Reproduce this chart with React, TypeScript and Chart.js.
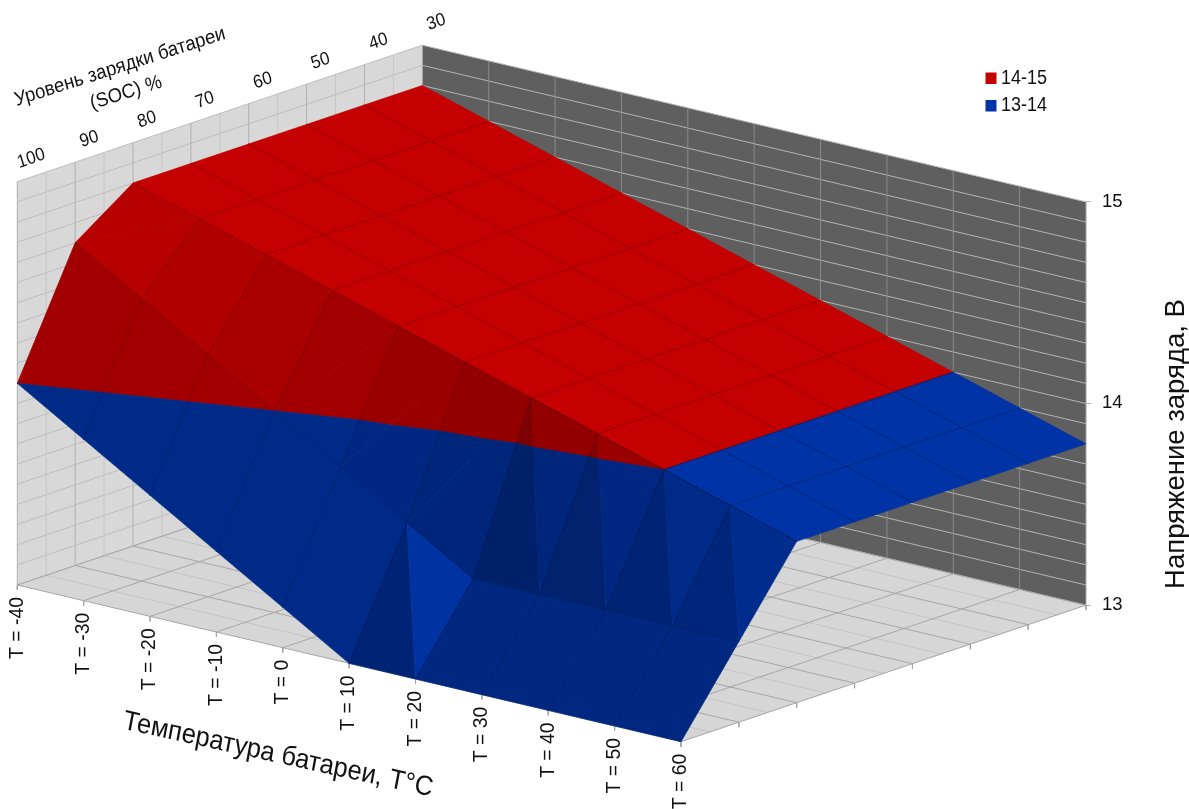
import React, { useEffect, useRef } from "react";
import { Chart, registerables } from "chart.js";

Chart.register(...registerables);

// Charge voltage (V) by battery temperature and state of charge.
const temperatures = [-40, -30, -20, -10, 0, 10, 20, 30, 40, 50, 60];
const socLevels = [100, 90, 80, 70, 60, 50, 40, 30];
const voltsSoc100 = [14.0, 13.8, 13.6, 13.4, 13.2, 13.0, 13.0, 13.0, 13.0, 13.0, 13.0];
const voltsSoc90 = [14.6, 14.4, 14.2, 14.0, 13.8, 13.6, 13.4, 13.4, 13.4, 13.4, 13.4];
const voltsSoc80 = [14.8, 14.7, 14.6, 14.5, 14.4, 14.3, 14.2, 14.1, 14.0, 13.9, 13.8];
const voltsSoc70 = [14.8, 14.7, 14.6, 14.5, 14.4, 14.3, 14.2, 14.1, 14.0, 13.9, 13.8];
const voltsSoc60 = [14.8, 14.7, 14.6, 14.5, 14.4, 14.3, 14.2, 14.1, 14.0, 13.9, 13.8];
const voltsSoc50 = [14.8, 14.7, 14.6, 14.5, 14.4, 14.3, 14.2, 14.1, 14.0, 13.9, 13.8];
const voltsSoc40 = [14.8, 14.7, 14.6, 14.5, 14.4, 14.3, 14.2, 14.1, 14.0, 13.9, 13.8];
const voltsSoc30 = [14.8, 14.7, 14.6, 14.5, 14.4, 14.3, 14.2, 14.1, 14.0, 13.9, 13.8];
const voltageRows = [voltsSoc100, voltsSoc90, voltsSoc80, voltsSoc70, voltsSoc60, voltsSoc50, voltsSoc40, voltsSoc30];
const voltageTicks = [13, 14, 15];
const bandLabels = ["14-15", "13-14"];

const WIDTH = 1189;
const HEIGHT = 809;
const AXIS_RIGHT = 1086;
const VOLT_MIN = 11.9884;
const VOLT_MAX = 16.0002;
const FLOOR = 13;
const TOP = 15;
const FONT = '"Liberation Sans", Arial, sans-serif';

const RED: number[] = [197, 0, 0];
const BLUE: number[] = [0, 51, 165];

// Oblique projection: x is in pixels of the x scale, y stays in volts on the right-hand axis.
const project = (ti: number, si: number, v: number) => ({
  x: 17.3 + ti * 66.37 + si * 57.86,
  y: v + 0.0992 - ti * 0.0777 + si * 0.0967,
});

const rgb = (c: number[], s: number) =>
  `rgb(${Math.round(c[0] * s)},${Math.round(c[1] * s)},${Math.round(c[2] * s)})`;

// Flat shading from the slope of a facet along both grid directions.
function facetShade(gT: number, gS: number) {
  const alongT = gT + 0.1;
  const weight = alongT > 0 ? 0.75 : 0.357;
  return Math.min(1, 1 - weight * alongT - 0.357 * gS);
}

type P3 = [number, number, number];

// Keeps the part of a polygon that lies inside one voltage band.
function clipBand(poly: P3[], lo: number, hi: number): P3[] {
  const clip = (pts: P3[], limit: number, keepAbove: boolean) => {
    const out: P3[] = [];
    pts.forEach((p, k) => {
      const q = pts[(k + 1) % pts.length];
      const pIn = keepAbove ? p[2] >= limit - 1e-9 : p[2] <= limit + 1e-9;
      const qIn = keepAbove ? q[2] >= limit - 1e-9 : q[2] <= limit + 1e-9;
      if (pIn) out.push(p);
      if (pIn !== qIn) {
        const t = (limit - p[2]) / (q[2] - p[2]);
        out.push([p[0] + (q[0] - p[0]) * t, p[1] + (q[1] - p[1]) * t, limit]);
      }
    });
    return out;
  };
  return clip(clip(poly, lo, true), hi, false);
}

// Splits a grid cell along its higher diagonal; a planar cell stays a single quad.
function cellFacets(i: number, j: number) {
  const a = voltageRows[j][i];
  const b = voltageRows[j][i + 1];
  const c = voltageRows[j + 1][i + 1];
  const d = voltageRows[j + 1][i];
  const pa: P3 = [i, j, a];
  const pb: P3 = [i + 1, j, b];
  const pc: P3 = [i + 1, j + 1, c];
  const pd: P3 = [i, j + 1, d];
  const planar = Math.abs(a + c - b - d) < 1e-9;
  if (planar) return [{ pts: [pa, pb, pc, pd], shade: facetShade(b - a, d - a) }];
  if (a + c > b + d) {
    return [
      { pts: [pa, pb, pc], shade: facetShade(b - a, c - b) },
      { pts: [pa, pc, pd], shade: facetShade(c - d, d - a) },
    ];
  }
  // A steep far facet on this split turns towards the light.
  const lit = c - d < -0.15 ? 0.08 : 0;
  return [
    { pts: [pa, pb, pd], shade: facetShade(b - a, d - a) },
    { pts: [pb, pc, pd], shade: Math.min(1, facetShade(c - d, c - b) + lit) },
  ];
}

function buildLayers() {
  const layers: any[] = [];
  const line = (pts: { x: number; y: number }[], color: string, width: number) =>
    layers.push({
      data: pts, showLine: true, borderColor: color, borderWidth: width, pointRadius: 0, clip: false, fill: false,
    });
  const polygon = (pts: { x: number; y: number }[], color: string, stroke = 0.7) =>
    layers.push({
      data: [...pts, pts[0]], showLine: true, polygon: true, backgroundColor: color, borderColor: color,
      borderWidth: stroke, pointRadius: 0, clip: false, fill: false,
    });

  const lastT = temperatures.length - 1;
  const lastS = socLevels.length - 1;
  const voltSteps: number[] = [];
  for (let k = 0; k <= 20; k++) voltSteps.push(FLOOR + k * 0.1);

  // Walls and floor
  polygon([project(0, 0, FLOOR), project(0, lastS, FLOOR), project(0, lastS, TOP), project(0, 0, TOP)], "#d8d8d8", 0);
  polygon([project(0, lastS, FLOOR), project(lastT, lastS, FLOOR), project(lastT, lastS, TOP), project(0, lastS, TOP)], "#5f5f5f", 0);
  polygon([project(0, 0, FLOOR), project(lastT, 0, FLOOR), project(lastT, lastS, FLOOR), project(0, lastS, FLOOR)], "#d6d6d6", 0);

  // Left wall grid
  voltSteps.forEach((v) => line([project(0, 0, v), project(0, lastS, v)], "#bdbdbd", 1));
  for (let s = 0; s <= lastS * 2; s++) {
    const major = s % 2 === 0;
    line([project(0, s / 2, FLOOR), project(0, s / 2, TOP)], major ? "#b0b0b0" : "#c6c6c6", 1);
  }
  // Back wall grid
  voltSteps.forEach((v) => line([project(0, lastS, v), project(lastT, lastS, v)], "#b4b4b4", 1));
  for (let t = 1; t <= lastT; t++) {
    line([project(t, lastS, FLOOR), project(t, lastS, TOP)], t === lastT ? "#a8a8a8" : "#8a8a8a", 1);
  }
  // Floor grid
  for (let s = 0; s <= lastS * 2; s++) {
    const major = s % 2 === 0;
    line([project(0, s / 2, FLOOR), project(lastT, s / 2, FLOOR)], major ? "#a6a6a6" : "#c4c4c4", 1);
  }
  for (let t = 0; t <= lastT; t++) {
    line([project(t, 0, FLOOR), project(t, lastS, FLOOR)], "#a6a6a6", 1);
  }
  // Axis ticks
  temperatures.forEach((_, t) => line([project(t, 0, FLOOR), project(t, 0, FLOOR - 0.025)], "#a6a6a6", 1));
  socLevels.forEach((_, s) => line([project(lastT, s, FLOOR), project(lastT, s, FLOOR - 0.025)], "#a6a6a6", 1));

  // Surface, painted from the back row forward
  const bands = [
    { lo: 14, hi: 15, color: RED },
    { lo: 13, hi: 14, color: BLUE },
  ];
  for (let j = lastS - 1; j >= 0; j--) {
    for (let i = 0; i < lastT; i++) {
      const facets = cellFacets(i, j);
      facets.forEach(({ pts, shade }) => {
        bands.forEach((band) => {
          const part = clipBand(pts as P3[], band.lo, band.hi);
          if (part.length >= 3) polygon(part.map((p) => project(p[0], p[1], p[2])), rgb(band.color, shade));
        });
      });
      const cellShade = Math.min(...facets.map((f) => f.shade));
      const lineShade = cellShade > 0.99 ? 0.8 : cellShade * 0.84;
      const a: P3 = [i, j, voltageRows[j][i]];
      const b: P3 = [i + 1, j, voltageRows[j][i + 1]];
      const c: P3 = [i + 1, j + 1, voltageRows[j + 1][i + 1]];
      const d: P3 = [i, j + 1, voltageRows[j + 1][i]];
      const edges: [P3, P3, boolean][] = [
        [a, b, j > 0],
        [b, c, i + 1 < lastT],
        [c, d, j + 1 < lastS],
        [d, a, i > 0],
      ];
      edges.forEach(([p, q, inner]) => {
        if (!inner) return;
        bands.forEach((band) => {
          const seg = clipBand([p, q], band.lo, band.hi);
          if (seg.length >= 2) {
            line([project(seg[0][0], seg[0][1], seg[0][2]), project(seg[1][0], seg[1][1], seg[1][2])], rgb(band.color, lineShade), 1);
          }
        });
      });
    }
  }
  return layers;
}

// Fills datasets flagged as polygons along the points the scales have placed.
const polygonFill = {
  id: "polygonFill",
  beforeDatasetDraw(chart: any, args: any) {
    const ds = chart.data.datasets[args.index];
    if (!ds.polygon) return;
    const pts = args.meta.data;
    const ctx = chart.ctx;
    ctx.save();
    ctx.beginPath();
    pts.forEach((p: any, k: number) => (k ? ctx.lineTo(p.x, p.y) : ctx.moveTo(p.x, p.y)));
    ctx.closePath();
    ctx.fillStyle = ds.backgroundColor;
    ctx.fill();
    ctx.restore();
  },
};

function label(
  ctx: CanvasRenderingContext2D, text: string, x: number, y: number, angleDeg: number,
  size: number, stretch = 1.08, align: CanvasTextAlign = "center",
) {
  ctx.save();
  ctx.translate(x, y);
  ctx.scale(1, stretch);
  ctx.rotate((angleDeg * Math.PI) / 180);
  ctx.font = `${size}px ${FONT}`;
  ctx.fillStyle = "#111111";
  ctx.textAlign = align;
  ctx.textBaseline = "middle";
  ctx.fillText(text, 0, 0);
  ctx.restore();
}

// Oblique axis labels, axis titles and the band key.
const chartText = {
  id: "chartText",
  afterDraw(chart: any) {
    const ctx = chart.ctx;
    const px = (p: { x: number; y: number }) => ({
      x: chart.scales.x.getPixelForValue(p.x),
      y: chart.scales.y.getPixelForValue(p.y),
    });
    temperatures.forEach((t, i) => {
      const p = px(project(i, 0, FLOOR));
      label(ctx, `T = ${t}`, p.x, p.y + 12, -90, 19.4, 1, "right");
    });
    socLevels.forEach((s, j) => {
      const p = px(project(0, j, TOP));
      label(ctx, String(s), p.x + 14, p.y - 23, -18.5, 17);
    });
    label(ctx, "Уровень зарядки батареи", 120, 67, -16.5, 18.5);
    label(ctx, "(SOC) %", 126, 93, -16.5, 18.5);
    label(ctx, "Температура батареи, T°C", 278, 755, 11.5, 25.5);
    label(ctx, "Напряжение заряда, В", 1176, 444, -90, 27.5, 1);

    bandLabels.forEach((text, k) => {
      const top = 72.5 + k * 27.5;
      ctx.fillStyle = k === 0 ? rgb(RED, 1) : rgb(BLUE, 1);
      ctx.fillRect(985.5, top, 11, 11.5);
      label(ctx, text, 1001, top + 6, 0, 18, 1.08, "left");
    });
  },
};

export default function App() {
  const ref = useRef<HTMLCanvasElement>(null);
  useEffect(() => {
    if (!ref.current) return;
    const chart = new Chart(ref.current, {
      type: "scatter",
      // The last dataset is painted first, so the paint list is reversed.
      data: { datasets: buildLayers().reverse() },
      options: {
        animation: false,
        responsive: false,
        events: [],
        layout: { padding: 0 },
        plugins: { legend: { display: false }, tooltip: { enabled: false }, title: { display: false } },
        scales: {
          x: { type: "linear", display: false, min: 0, max: AXIS_RIGHT },
          y: {
            type: "linear",
            position: "right",
            min: VOLT_MIN,
            max: VOLT_MAX,
            border: { display: false },
            grid: { drawOnChartArea: false, drawTicks: true, tickLength: 5, color: "#b5b5b5" },
            ticks: { color: "#111111", padding: 11, font: { family: FONT, size: 18.5 }, callback: (v: any) => String(v) },
            afterBuildTicks: (scale: any) => {
              scale.ticks = voltageTicks.map((value) => ({ value }));
            },
            afterFit: (scale: any) => {
              scale.width = WIDTH - AXIS_RIGHT;
              scale.paddingTop = 0;
              scale.paddingBottom = 0;
            },
          },
        },
      },
      plugins: [polygonFill, chartText],
    } as any);
    return () => chart.destroy();
  }, []);
  return (
    <div style={{ position: "fixed", left: 0, top: 0, width: WIDTH, height: HEIGHT, background: "#ffffff" }}>
      <canvas ref={ref} width={WIDTH} height={HEIGHT} style={{ display: "block" }} />
    </div>
  );
}
